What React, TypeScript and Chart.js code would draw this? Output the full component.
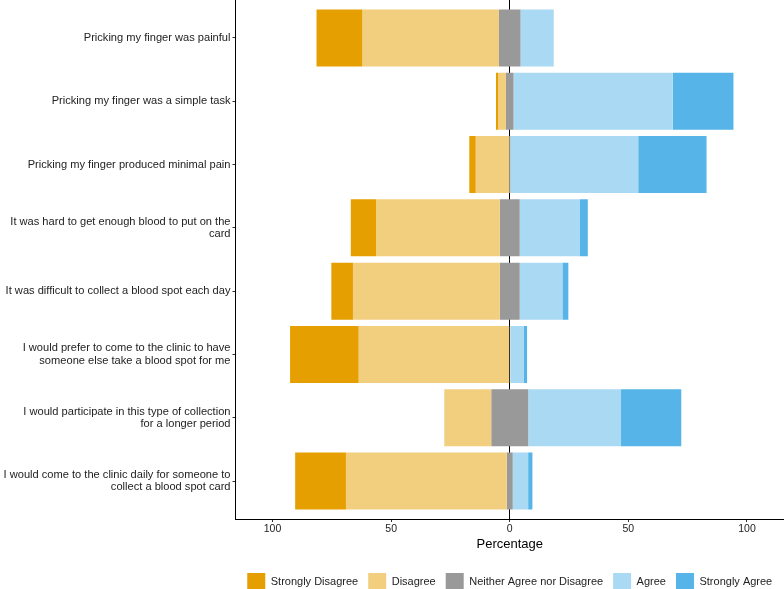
import React, { useEffect, useRef } from "react";
import { Chart, registerables } from "chart.js";

Chart.register(...registerables);

// Categories (top to bottom), wrapped as in the reference
const categories: string[][] = [
  ["Pricking my finger was painful"],
  ["Pricking my finger was a simple task"],
  ["Pricking my finger produced minimal pain"],
  ["It was hard to get enough blood to put on the", "card"],
  ["It was difficult to collect a blood spot each day"],
  ["I would prefer to come to the clinic to have", "someone else take a blood spot for me"],
  ["I would participate in this type of collection", "for a longer period"],
  ["I would come to the clinic daily for someone to", "collect a blood spot card"],
];

const responseLevels = [
  "Strongly Disagree",
  "Disagree",
  "Neither Agree nor Disagree",
  "Agree",
  "Strongly Agree",
];

// Percentages per category
const stronglyDisagree = [19.3, 0.9, 2.7, 10.7, 9.1, 28.9, 0, 21.4];
const disagree = [57.6, 3.3, 14.1, 52.1, 61.9, 63.7, 19.8, 67.8];
const neutral = [9.1, 3.2, 0.5, 8.4, 8.4, 0, 15.6, 2.5];
const agree = [14.0, 67.1, 53.9, 25.4, 18.0, 5.8, 39.1, 6.5];
const stronglyAgree = [0, 25.6, 28.8, 3.3, 2.5, 1.5, 25.4, 1.8];

const xTicks = [-100, -50, 0, 50, 100];

const levelColors = ["#E69F00", "#F2CF7F", "#999999", "#AAD9F4", "#56B4E9"];

const FONT = "'Liberation Sans', Arial, Helvetica, sans-serif";

function buildDatasets() {
  const series = [stronglyDisagree, disagree, neutral, agree, stronglyAgree];
  const ranges: [number, number][][] = series.map(() => []);
  categories.forEach((_, i) => {
    const half = neutral[i] / 2;
    const dStart = -(half + disagree[i]);
    const sdStart = dStart - stronglyDisagree[i];
    const aEnd = half + agree[i];
    const saEnd = aEnd + stronglyAgree[i];
    ranges[0].push([sdStart, dStart]);
    ranges[1].push([dStart, -half]);
    ranges[2].push([-half, half]);
    ranges[3].push([half, aEnd]);
    ranges[4].push([aEnd, saEnd]);
  });
  return responseLevels.map((name, k) => ({
    label: name,
    data: ranges[k].map((r, i) => ({ y: i, x: r })),
    backgroundColor: levelColors[k],
    borderWidth: 0,
    grouped: false,
    barPercentage: 0.9,
    categoryPercentage: 1,
  }));
}

export default function App() {
  const ref = useRef<HTMLCanvasElement | null>(null);

  useEffect(() => {
    if (!ref.current) return;
    const chart = new Chart(ref.current, {
      type: "bar",
      data: { datasets: buildDatasets() as any },
      options: {
        animation: false,
        responsive: false,
        indexAxis: "y",
        layout: { padding: 0, autoPadding: false } as any,
        plugins: {
          tooltip: { enabled: false },
          legend: {
            position: "bottom",
            align: "center",
            fullSize: false,
            labels: {
              boxWidth: 18,
              boxHeight: 18,
              padding: 10,
              color: "#222",
              font: { family: FONT, size: 11 },
            },
          },
        },
        scales: {
          x: {
            type: "linear",
            min: -115.6,
            max: 115.6,
            offset: false,
            afterBuildTicks: (scale: any) => {
              scale.ticks = xTicks.map((v) => ({ value: v }));
            },
            afterFit: (scale: any) => {
              scale.height = 44;
            },
            grid: {
              display: true,
              offset: false,
              drawOnChartArea: true,
              drawTicks: true,
              tickLength: 3,
              color: (ctx: any) =>
                ctx.tick && ctx.tick.value === 0 ? "#000" : "rgba(0,0,0,0)",
              tickColor: "#333",
              lineWidth: 1,
            },
            border: { display: true, color: "#000", width: 1 },
            ticks: {
              padding: 1,
              color: "#222",
              font: { family: FONT, size: 10.5 },
              callback: (v: any) => String(Math.abs(Number(v))),
            },
            title: {
              display: true,
              text: "Percentage",
              color: "#000",
              font: { family: FONT, size: 13 },
              padding: { top: 0, bottom: 11 },
            },
          },
          y: {
            type: "linear",
            min: -0.6,
            max: 7.6,
            reverse: true,
            offset: false,
            afterBuildTicks: (scale: any) => {
              scale.ticks = categories.map((_, i) => ({ value: i }));
            },
            afterFit: (scale: any) => {
              scale.width = 235.5;
              scale.paddingTop = 0;
              scale.paddingBottom = 0;
            },
            grid: {
              display: true,
              offset: false,
              drawOnChartArea: false,
              drawTicks: true,
              tickLength: 3,
              tickColor: "#333",
            },
            border: { display: true, color: "#000", width: 1 },
            ticks: {
              padding: 2,
              color: "#222",
              autoSkip: false,
              font: { family: FONT, size: 11.1, lineHeight: 1.1 },
              callback: (v: any) => categories[Number(v)] ?? "",
            },
          },
        },
      } as any,
    });
    return () => chart.destroy();
  }, []);

  return (
    <div style={{ position: "absolute", left: 0, top: 0, width: 784, height: 601 }}>
      <canvas ref={ref} width={784} height={601} style={{ width: 784, height: 601, display: "block" }} />
    </div>
  );
}
